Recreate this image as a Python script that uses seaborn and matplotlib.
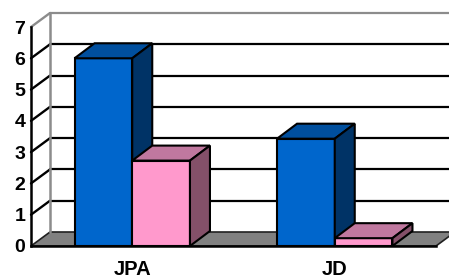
import numpy as np
import pandas as pd
import seaborn as sns
import matplotlib.pyplot as plt
from matplotlib.patches import Polygon

categories = ["JPA", "JD"]
series_a = [6.0, 3.43]
series_b = [2.73, 0.25]
y_ticks = [0, 1, 2, 3, 4, 5, 6, 7]

front_colors = ["#0066CC", "#FF99CC"]
top_colors = ["#004F9E", "#C0789F"]
side_colors = ["#003366", "#845069"]

df = pd.DataFrame({
    "cat": categories * 2,
    "series": ["a"] * 2 + ["b"] * 2,
    "value": series_a + series_b,
})

sns.set_style("white")
plt.rcParams["font.family"] = ["Liberation Sans", "DejaVu Sans"]

fig = plt.figure(figsize=(4.49, 2.75), dpi=100)
W, H = 449, 275
ax = fig.add_axes([31 / W, (H - 246) / H, 405 / W, 219 / H])
ax.set_facecolor("none")

sns.barplot(data=df, x="cat", y="value", hue="series", palette=front_colors,
            saturation=1, width=0.57, edgecolor="black", linewidth=1.5,
            legend=False, ax=ax, zorder=3)

ax.set_xlim(-0.5, 1.5)
ax.set_ylim(0, 7)

# pixel -> data offsets for the depth
px_x = 2 / 405
px_y = 7 / 219
wdx, wdy = 19 * px_x, 14 * px_y   # wall depth
bdx, bdy = 20 * px_x, 15 * px_y   # bar depth
xr = 1.6

bars = list(ax.patches)

# floor
floor = Polygon([(-0.5, 0), (1.5, 0), (1.5 + wdx, wdy), (-0.5 + wdx, wdy)],
                closed=True, facecolor="#808080", edgecolor="#202020",
                linewidth=1.2, clip_on=False, zorder=1)
ax.add_patch(floor)

# back wall grid
grey = "#8c8c8c"
for v in y_ticks[1:]:
    col = grey if v == y_ticks[-1] else "black"
    ax.plot([-0.5, -0.5 + wdx], [v, v + wdy], color=col, lw=1.7,
            clip_on=False, zorder=1.5)
    ax.plot([-0.5 + wdx, xr], [v + wdy, v + wdy], color=col, lw=1.6,
            clip_on=False, zorder=1.5)
ax.plot([-0.5 + wdx, -0.5 + wdx], [wdy, y_ticks[-1] + wdy], color=grey,
        lw=1.8, clip_on=False, zorder=1.5)

# 3d tops and sides
n_cat = len(categories)
for k, p in enumerate(bars):
    j, i = divmod(k, n_cat)   # hue, category
    z = 3 + i * 0.5 + j * 0.2
    p.set_zorder(z)
    x0 = p.get_x()
    x1 = x0 + p.get_width()
    h = p.get_height()
    top = Polygon([(x0, h), (x1, h), (x1 + bdx, h + bdy), (x0 + bdx, h + bdy)],
                  closed=True, facecolor=top_colors[j], edgecolor="black",
                  linewidth=1.5, clip_on=False, zorder=z)
    side = Polygon([(x1, 0), (x1 + bdx, bdy), (x1 + bdx, h + bdy), (x1, h)],
                   closed=True, facecolor=side_colors[j], edgecolor="black",
                   linewidth=1.5, clip_on=False, zorder=z)
    ax.add_patch(top)
    ax.add_patch(side)

for s in ["top", "right"]:
    ax.spines[s].set_visible(False)
for s in ["left", "bottom"]:
    ax.spines[s].set_color("black")
    ax.spines[s].set_linewidth(1.8)
    ax.spines[s].set_zorder(6)

ax.set_yticks(y_ticks)
ax.set_yticklabels([str(v) for v in y_ticks])
ax.tick_params(axis="y", length=3.5, width=1.6, pad=0.5, color="black",
               labelsize=14, labelcolor="black")
ax.set_xticks(range(n_cat))
ax.set_xticklabels(categories)
ax.set_xticks([-0.5, 0.5, 1.5], minor=True)
ax.tick_params(axis="x", which="major", length=0, pad=10, labelsize=14.5,
               labelcolor="black")
ax.tick_params(axis="x", which="minor", length=5, width=1.6, color="black")
for lab in ax.get_xticklabels() + ax.get_yticklabels():
    lab.set_fontweight("bold")
ax.set_xlabel("")
ax.set_ylabel("")

fig.savefig("out.png", dpi=100, facecolor="white")
